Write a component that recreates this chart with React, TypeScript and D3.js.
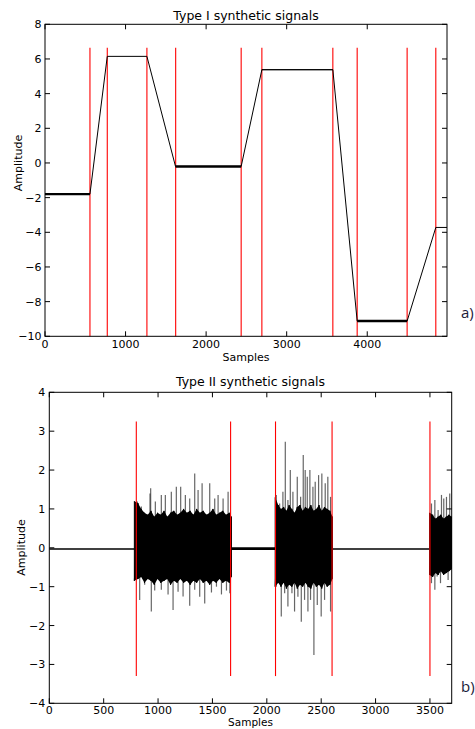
import React from 'react';
import * as d3 from 'd3';

const W = 475;
const H = 729;

// ---------- Type I data ----------
const t1XTicks = [0, 1000, 2000, 3000, 4000];
const t1YTicks = [8, 6, 4, 2, 0, -2, -4, -6, -8, -10];
const t1Breaks = [0, 558, 773, 1265, 1620, 2435, 2692, 3573, 3875, 4495, 4851, 4990];
const t1Values = [-1.8, -1.8, 6.15, 6.15, -0.2, -0.2, 5.38, 5.38, -9.12, -9.12, -3.72, -3.72];
// noise amplitude of each segment between consecutive breaks
const t1Noise = [0.065, 0, 0, 0, 0.075, 0, 0.02, 0, 0.075, 0, 0];
const t1Red = [558, 773, 1265, 1622, 2435, 2692, 3573, 3875, 4495, 4851];
const t1RedTop = 6.65;

// ---------- Type II data ----------
const t2XTicks = [0, 500, 1000, 1500, 2000, 2500, 3000, 3500];
const t2YTicks = [4, 3, 2, 1, 0, -1, -2, -3, -4];
const t2Red = [800, 1667, 2080, 2600, 3500];
const t2RedTop = 3.25;
const t2RedBottom = -3.3;
const t2QuietStart = [0, 1676, 2604];
const t2QuietEnd = [781, 2077, 3496];
const t2QuietLevel = [-0.03, -0.02, -0.03];
const t2QuietNoise = [0.02, 0.035, 0.02];

// burst cores: [sample, upper, lower]
const burst1Core: [number, number, number][] = [
  [782, 1.2, -0.85], [815, 1.15, -0.8], [845, 1.0, -0.75], [875, 0.9, -0.9], [905, 0.85, -0.8],
  [935, 0.95, -0.85], [965, 0.8, -0.95], [995, 0.9, -0.8], [1025, 0.85, -0.9], [1055, 0.95, -0.85],
  [1085, 0.8, -0.8], [1115, 0.9, -0.95], [1145, 0.95, -0.85], [1175, 0.85, -0.9], [1205, 0.9, -0.8],
  [1235, 1.0, -0.9], [1265, 0.9, -0.85], [1295, 0.95, -0.95], [1325, 0.85, -0.85], [1355, 1.0, -0.9],
  [1385, 0.9, -0.8], [1415, 0.95, -0.9], [1445, 0.85, -0.85], [1475, 0.9, -0.95], [1505, 1.0, -0.85],
  [1535, 0.85, -0.9], [1565, 0.9, -0.8], [1595, 0.95, -0.9], [1625, 0.85, -0.85], [1655, 0.9, -0.9],
  [1675, 0.8, -0.75],
];
const burst1Spikes: [number, number][] = [
  [809, 1.19], [846, 1.06], [926, 1.4], [932, 1.53], [975, 1.19], [1030, 1.36], [1067, 1.36],
  [1122, 1.44], [1168, 1.57], [1208, 1.57], [1251, 1.36], [1291, 1.27], [1337, 1.91], [1368, 1.49],
  [1405, 1.66], [1475, 1.66], [1521, 1.27], [1552, 1.36], [1598, 1.27], [1644, 1.44],
  [831, -1.34], [877, -0.95], [938, -1.64], [969, -1.1], [1030, -1.08], [1092, -1.2], [1138, -1.6],
  [1184, -1.13], [1230, -1.25], [1291, -1.49], [1337, -1.08], [1383, -1.26], [1429, -1.43],
  [1491, -1.15], [1537, -1.0], [1583, -1.2], [1629, -1.1], [1660, -1.17],
];
const burst2Core: [number, number, number][] = [
  [2077, 1.3, -1.0], [2105, 1.1, -0.9], [2130, 1.0, -1.0], [2155, 1.05, -0.9], [2180, 0.95, -1.05],
  [2205, 1.1, -0.95], [2230, 1.0, -1.0], [2255, 0.9, -0.9], [2280, 1.05, -1.05], [2305, 1.1, -0.95],
  [2330, 0.95, -1.0], [2355, 1.05, -0.9], [2380, 1.0, -1.0], [2405, 1.1, -1.05], [2430, 0.95, -0.9],
  [2455, 1.0, -1.0], [2480, 1.1, -0.95], [2505, 0.95, -1.05], [2530, 1.05, -0.9], [2555, 1.0, -1.0],
  [2580, 0.95, -0.95], [2604, 0.8, -0.8],
];
const burst2Spikes: [number, number][] = [
  [2087, 1.36], [2118, 1.14], [2148, 1.44], [2170, 2.73], [2194, 1.23], [2216, 2.0], [2240, 1.44],
  [2280, 1.83], [2311, 1.31], [2335, 2.39], [2353, 2.0], [2372, 1.83], [2396, 2.0], [2424, 1.57],
  [2445, 1.7], [2476, 1.87], [2506, 1.91], [2537, 1.66], [2561, 1.83], [2586, 1.31],
  [2087, -1.0], [2133, -1.77], [2164, -1.17], [2194, -1.51], [2231, -1.17], [2255, -1.64],
  [2286, -1.26], [2317, -1.9], [2347, -1.34], [2378, -1.64], [2402, -1.34], [2433, -2.76],
  [2464, -1.47], [2500, -1.77], [2531, -1.34], [2586, -1.64],
];
const burst3Core: [number, number, number][] = [
  [3497, 0.9, -0.7], [3525, 0.85, -0.75], [3550, 0.75, -0.65], [3575, 0.8, -0.7], [3600, 0.85, -0.6],
  [3625, 0.75, -0.7], [3650, 0.8, -0.65], [3675, 0.85, -0.6], [3698, 0.8, -0.55],
];
const burst3Spikes: [number, number][] = [
  [3514, 1.14], [3545, 1.23], [3575, 0.97], [3606, 1.36], [3627, 1.27], [3652, 1.31], [3682, 1.4],
  [3514, -0.91], [3545, -1.08], [3566, -0.74], [3597, -0.91], [3637, -0.66], [3667, -0.83], [3692, -0.57],
];

const FONT = 'DejaVu Sans';
const fmt = (v: number) => String(v).replace('-', '\u2212');

type Lin = d3.ScaleLinear<number, number>;

function Frame(props: {
  x: Lin; y: Lin; xTicks: number[]; yTicks: number[]; title: string; titleY: number;
  xTickY: number; xLabelY: number; xLabelSize: number; yLabelX: number; yLabelCY: number; yTickGap: number;
}) {
  const { x, y, xTicks, yTicks, title, titleY, xTickY, xLabelY, xLabelSize, yLabelX, yLabelCY, yTickGap } = props;
  const [x0, x1] = x.range();
  const [yb, yt] = y.range();
  const tl = 5;
  return (
    <g fontFamily={FONT} fontSize={11} fill="#000">
      {xTicks.map((t) => (
        <g key={'x' + t}>
          <line x1={x(t)} x2={x(t)} y1={yb} y2={yb - tl} stroke="#000" />
          <line x1={x(t)} x2={x(t)} y1={yt} y2={yt + tl} stroke="#000" />
          <text x={x(t)} y={xTickY} textAnchor="middle">{fmt(t)}</text>
        </g>
      ))}
      {yTicks.map((t) => (
        <g key={'y' + t}>
          <line x1={x0} x2={x0 + tl} y1={y(t)} y2={y(t)} stroke="#000" />
          <line x1={x1} x2={x1 - tl} y1={y(t)} y2={y(t)} stroke="#000" />
          <text x={x0 - yTickGap} y={y(t)} dy="0.36em" textAnchor="end">{fmt(t)}</text>
        </g>
      ))}
      <rect x={x0} y={yt} width={x1 - x0} height={yb - yt} fill="none" stroke="#000" />
      <text x={(x0 + x1) / 2} y={titleY} textAnchor="middle" fontSize={12.5}>{title}</text>
      <text x={(x0 + x1) / 2} y={xLabelY} textAnchor="middle" fontSize={xLabelSize}>Samples</text>
      <text transform={`translate(${yLabelX},${yLabelCY}) rotate(-90)`} textAnchor="middle" dy="0.36em">Amplitude</text>
    </g>
  );
}

function TypeI() {
  const x = d3.scaleLinear().domain([0, 4990]).range([45, 447]);
  const y = d3.scaleLinear().domain([-10, 8]).range([336.3, 24.3]);
  const pts = t1Breaks.map((b, i) => [b, t1Values[i]] as [number, number]);
  const line = d3.line<[number, number]>().x((d) => x(d[0])).y((d) => y(d[1]));
  const pxPerUnit = y(0) - y(1);
  return (
    <g>
      {t1Red.map((r) => (
        <line key={r} x1={x(r)} x2={x(r)} y1={y(t1RedTop)} y2={y(-10)} stroke="#ff0000" strokeWidth={1.1} />
      ))}
      <path d={line(pts) || ''} fill="none" stroke="#000" strokeWidth={1} />
      {t1Noise.map((n, i) =>
        n > 0 ? (
          <path
            key={'n' + i}
            d={line([pts[i], pts[i + 1]]) || ''}
            fill="none"
            stroke="#000"
            strokeWidth={Math.max(1, n * 2 * pxPerUnit)}
          />
        ) : null
      )}
      <Frame x={x} y={y} xTicks={t1XTicks} yTicks={t1YTicks} title="Type I synthetic signals" titleY={20}
        xTickY={348} xLabelY={361} xLabelSize={11} yLabelX={18} yLabelCY={163} yTickGap={3.5} />
      <text x={461} y={318} fontFamily="Open Sans" fontSize={15} fill="#1b1b3a">a)</text>
    </g>
  );
}

function Burst({ x, y, core, spikes }: { x: Lin; y: Lin; core: [number, number, number][]; spikes: [number, number][] }) {
  const area = d3.area<[number, number, number]>().x((d) => x(d[0])).y0((d) => y(d[2])).y1((d) => y(d[1]));
  const zig: [number, number][] = [];
  core.forEach((c) => { zig.push([c[0], c[1]]); zig.push([c[0], c[2]]); });
  const zline = d3.line<[number, number]>().x((d) => x(d[0])).y((d) => y(d[1]));
  return (
    <g>
      {spikes.map((s, i) => (
        <line key={i} x1={x(s[0])} x2={x(s[0])} y1={y(0)} y2={y(s[1])} stroke="#333" strokeOpacity={0.75} strokeWidth={1.2} />
      ))}
      <path d={area(core) || ''} fill="#000" />
      <path d={zline(zig) || ''} fill="none" stroke="#000" strokeWidth={1} />
    </g>
  );
}

function TypeII() {
  const x = d3.scaleLinear().domain([0, 3700]).range([49.3, 451.7]);
  const y = d3.scaleLinear().domain([-4, 4]).range([703.3, 392.3]);
  const pxPerUnit = y(0) - y(1);
  return (
    <g>
      {t2QuietStart.map((s, i) => (
        <line key={'q' + i} x1={x(s)} x2={x(t2QuietEnd[i])} y1={y(t2QuietLevel[i])} y2={y(t2QuietLevel[i])}
          stroke="#000" strokeWidth={Math.max(1, t2QuietNoise[i] * 2 * pxPerUnit)} />
      ))}
      <Burst x={x} y={y} core={burst1Core} spikes={burst1Spikes} />
      <Burst x={x} y={y} core={burst2Core} spikes={burst2Spikes} />
      <Burst x={x} y={y} core={burst3Core} spikes={burst3Spikes} />
      {t2Red.map((r) => (
        <line key={r} x1={x(r)} x2={x(r)} y1={y(t2RedTop)} y2={y(t2RedBottom)} stroke="#ff0000" strokeWidth={1.1} />
      ))}
      <Frame x={x} y={y} xTicks={t2XTicks} yTicks={t2YTicks} title="Type II synthetic signals" titleY={386}
        xTickY={713.8} xLabelY={726.2} xLabelSize={10.5} yLabelX={21} yLabelCY={547.5} yTickGap={4} />
      <text x={461} y={692} fontFamily="Open Sans" fontSize={15} fill="#1b1b3a">b)</text>
    </g>
  );
}

export default function App() {
  return (
    <svg width={W} height={H} viewBox={`0 0 ${W} ${H}`} style={{ position: 'absolute', left: 0, top: 0, background: '#fff' }}>
      <rect width={W} height={H} fill="#fff" />
      <TypeI />
      <TypeII />
    </svg>
  );
}
